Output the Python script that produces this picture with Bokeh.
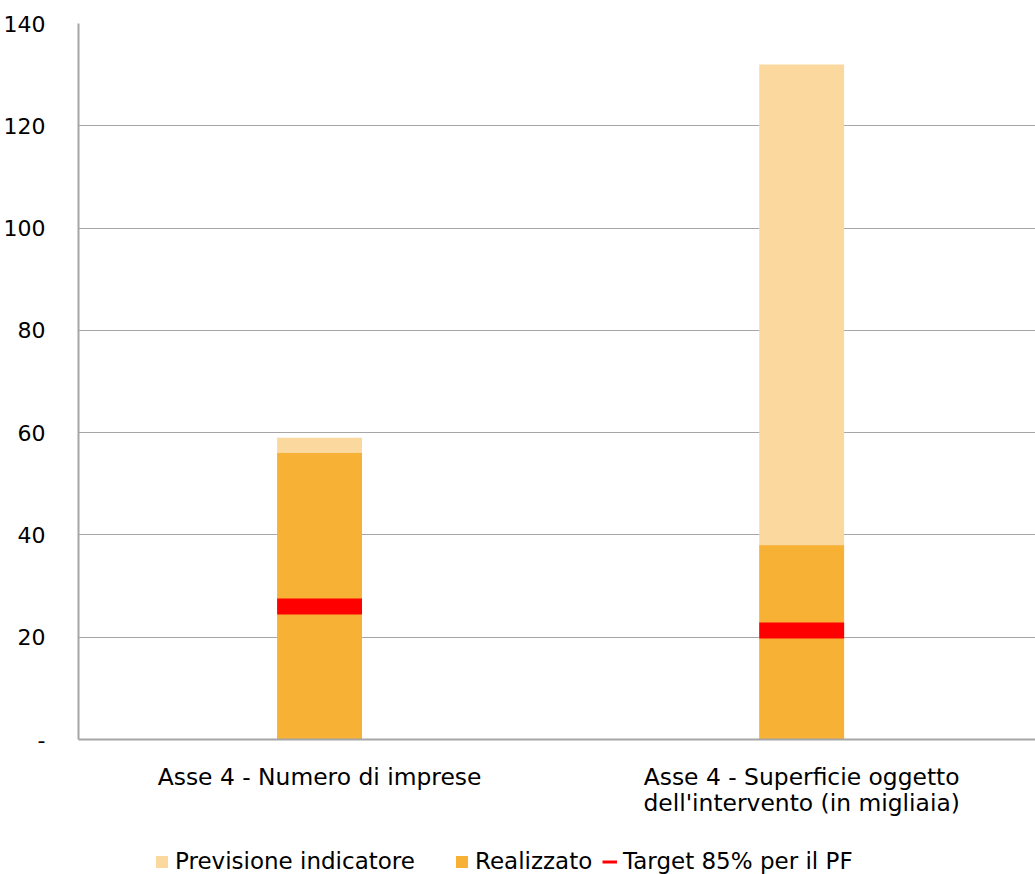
from bokeh.plotting import figure
from bokeh.models import (Range1d, FixedTicker, Legend, LegendItem, ColumnDataSource)
from bokeh.layouts import column
from bokeh.embed import file_html
from bokeh.resources import INLINE

categories = ["Asse 4 - Numero di imprese",
              "Asse 4 - Superficie oggetto\ndell'intervento (in migliaia)"]
previsione = [59, 132]
realizzato = [56, 38]
target = [26, 21.3]
y_ticks = [0, 20, 40, 60, 80, 100, 120, 140]
y_labels = ["-", "20", "40", "60", "80", "100", "120", "140"]
legend_labels = ["Previsione indicatore", "Realizzato", "Target 85% per il PF"]

FONT = "DejaVu Sans"
C_PREV = "#FBD89E"
C_REAL = "#F7B135"
C_TGT = "#FF0000"

xpos = [i + 0.5 for i in range(len(categories))]
src = ColumnDataSource(dict(x=xpos, prev=previsione, real=realizzato, tgt=target))

p = figure(width=1035, height=844, output_backend="svg", toolbar_location=None,
           x_range=Range1d(0, 1.985), y_range=Range1d(0, 140),
           min_border_left=78, min_border_right=0, min_border_top=23,
           min_border_bottom=105)
p.outline_line_color = None
p.background_fill_color = "white"

bw = 0.176
p.vbar(x="x", top="prev", bottom=0, width=bw, source=src,
       fill_color=C_PREV, line_color=None)
p.vbar(x="x", top="real", bottom=0, width=bw, source=src,
       fill_color=C_REAL, line_color=None)
p.rect(x="x", y="tgt", width=bw, height=16, height_units="screen", source=src,
       fill_color=C_TGT, line_color=None)

# axes
p.xaxis.ticker = FixedTicker(ticks=xpos)
p.xaxis.major_label_overrides = {x: c for x, c in zip(xpos, categories)}
p.yaxis.ticker = FixedTicker(ticks=y_ticks)
p.yaxis.major_label_overrides = {t: l for t, l in zip(y_ticks, y_labels)}
for ax in (p.xaxis[0], p.yaxis[0]):
    ax.major_tick_line_color = None
    ax.minor_tick_line_color = None
    ax.axis_line_color = "#A6A6A6"
    ax.axis_line_width = 2
    ax.major_label_text_font = FONT
    ax.major_label_text_color = "#000000"
p.yaxis.major_label_text_font_size = "22px"
p.yaxis.major_label_standoff = 27
p.xaxis.major_label_text_font_size = "23.4px"
p.xaxis.major_label_text_line_height = 0.95
p.xaxis.major_label_standoff = 17

p.xgrid.grid_line_color = None
p.ygrid.ticker = FixedTicker(ticks=y_ticks[1:])
p.ygrid.grid_line_color = "#A6A6A6"
p.ygrid.grid_line_width = 1

# legend strip (separate figure so items can be placed freely)
lp = figure(width=1035, height=30, output_backend="svg", toolbar_location=None,
            x_range=Range1d(0, 1), y_range=Range1d(0, 1),
            min_border=0, x_axis_location=None, y_axis_location=None)
lp.outline_line_color = None
lp.xgrid.grid_line_color = None
lp.ygrid.grid_line_color = None
lsrc = ColumnDataSource(dict(x=xpos[:1], prev=previsione[:1], real=realizzato[:1],
                             tgt=target[:1]))
g1 = lp.vbar(x="x", top="prev", width=bw, source=lsrc, fill_color=C_PREV,
             line_color=None, visible=False)
g2 = lp.vbar(x="x", top="real", width=bw, source=lsrc, fill_color=C_REAL,
             line_color=None, visible=False)
g3 = lp.line(x="x", y="tgt", source=lsrc, line_color=C_TGT, line_width=3,
             visible=False)

for lab, g, xloc in zip(legend_labels, [g1, g2, g3], [76, 376, 524]):
    lg = Legend(items=[LegendItem(label=lab, renderers=[g])],
                location=(xloc, 0), orientation="horizontal",
                border_line_color=None, background_fill_alpha=0,
                inactive_fill_alpha=0,
                padding=0, margin=0, glyph_width=15, glyph_height=15,
                label_standoff=6, label_text_font=FONT,
                label_text_font_size="23px", label_text_color="#000000",
                click_policy="none")
    lp.add_layout(lg, "center")

layout = column(p, lp, spacing=0)
open("out.html", "w").write(file_html(layout, INLINE))
